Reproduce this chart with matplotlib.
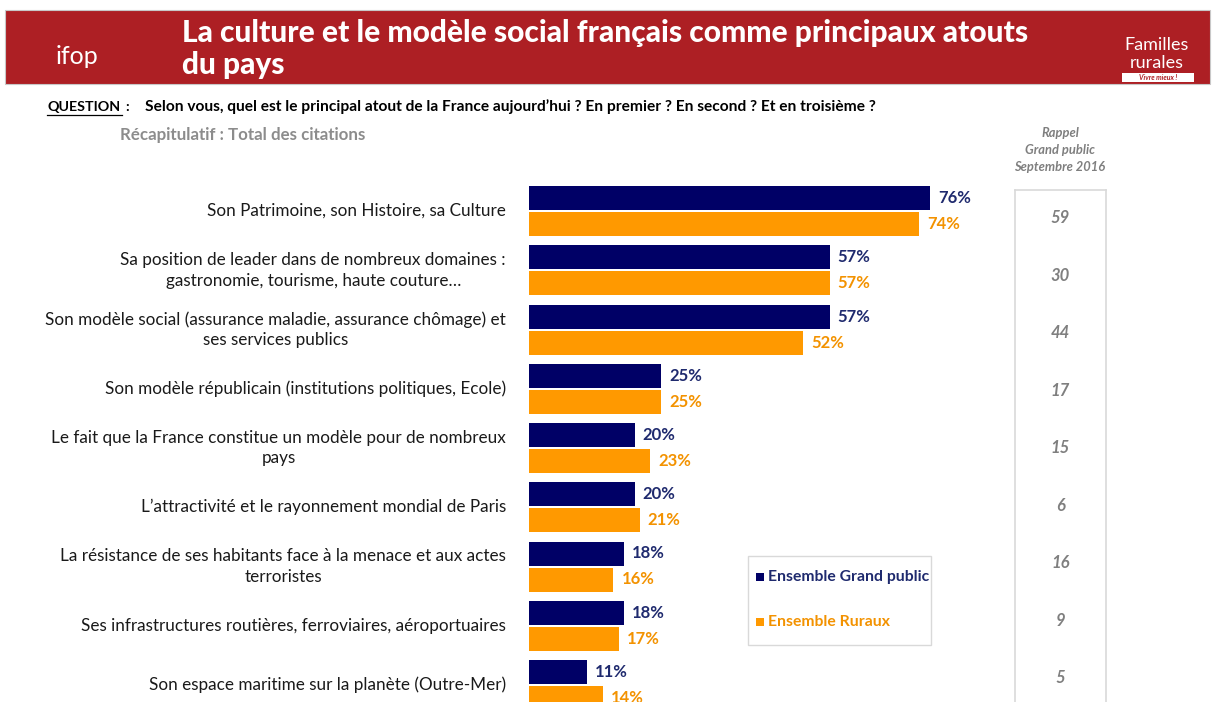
import matplotlib
matplotlib.use("Agg")
import matplotlib.pyplot as plt
from matplotlib.patches import Rectangle

categories = [
    "Son Patrimoine, son Histoire, sa Culture",
    "Sa position de leader dans de nombreux domaines :\ngastronomie, tourisme, haute couture…",
    "Son modèle social (assurance maladie, assurance chômage) et\nses services publics",
    "Son modèle républicain (institutions politiques, Ecole)",
    "Le fait que la France constitue un modèle pour de nombreux\npays",
    "L’attractivité et le rayonnement mondial de Paris",
    "La résistance de ses habitants face à la menace et aux actes\nterroristes",
    "Ses infrastructures routières, ferroviaires, aéroportuaires",
    "Son espace maritime sur la planète (Outre-Mer)",
]
grand_public = [76, 57, 57, 25, 20, 20, 18, 18, 11]
ruraux = [74, 57, 52, 25, 23, 21, 16, 17, 14]
rappel_2016 = [59, 30, 44, 17, 15, 6, 16, 9, 5]
series_names = ["Ensemble Grand public", "Ensemble Ruraux"]

NAVY = "#000066"
NAVY_T = "#1F2A6E"
ORANGE = "#FF9900"
ORANGE_T = "#F39200"
RED = "#AD1F24"
GREY = "#7F7F7F"
FONT = "Lato"

W, H = 1215, 702
fig = plt.figure(figsize=(W / 100, H / 100), dpi=100)
fig.patch.set_facecolor("white")

def fx(px):
    return px / W

def fy(py):
    return 1 - py / H

# header band
fig.patches.append(Rectangle((fx(5), fy(84)), fx(1205), 74 / H, transform=fig.transFigure,
                             facecolor=RED, edgecolor="#C8C8C8", lw=0.8, zorder=0))
fig.text(fx(182), fy(33), "La culture et le modèle social français comme principaux atouts",
         color="white", fontsize=21.5, fontweight="black", family=FONT, va="center", ha="left")
fig.text(fx(182), fy(65), "du pays", color="white", fontsize=21.5, fontweight="black",
         family=FONT, va="center", ha="left")
fig.text(fx(77), fy(57), "ifop", color="white", fontsize=18, fontweight="normal",
         family=FONT, va="center", ha="center")
fig.text(fx(1157), fy(45), "Familles", color="white", fontsize=13, family=FONT,
         va="center", ha="center")
fig.text(fx(1157), fy(63), "rurales", color="white", fontsize=13, family=FONT,
         va="center", ha="center")
fig.patches.append(Rectangle((fx(1122), fy(82)), fx(72), 9 / H, transform=fig.transFigure,
                             facecolor="white", edgecolor="none"))
fig.text(fx(1158), fy(77.5), "Vivre mieux !", color=RED, fontsize=5, style="italic",
         family=FONT, va="center", ha="center", fontweight="bold")

# question
fig.text(fx(47), fy(107), "QUESTION", fontsize=10.3, fontweight="bold", family=FONT,
         va="center", ha="left", color="black")
fig.lines.append(plt.Line2D([fx(47), fx(122)], [fy(115), fy(115)], transform=fig.transFigure,
                            color="black", lw=0.9))
fig.text(fx(125), fy(107), ":", fontsize=10.3, fontweight="bold", family=FONT,
         va="center", ha="left", color="black")
fig.text(fx(145), fy(107),
         "Selon vous, quel est le principal atout de la France aujourd’hui ? En premier ? En second ? Et en troisième ?",
         fontsize=11.2, fontweight="bold", family=FONT, va="center", ha="left", color="black")
fig.text(fx(120), fy(135), "Récapitulatif : Total des citations", fontsize=12.2, fontweight="bold",
         family=FONT, va="center", ha="left", color="#8C8C8C")

# bars axes
x0, x1 = 529, 1000
top_px = 180
scale = (930 - 529) / 76.0
spacing = 59.25
first_center = 211.0
ax = fig.add_axes([fx(x0), 0, fx(x1 - x0), (H - top_px) / H])
ax.set_xlim(0, (x1 - x0) / scale)
ax.set_ylim(8 + (H - first_center - 8 * spacing) / spacing, -(first_center - top_px) / spacing)
ax.axis("off")

bh = 24 / spacing
off = 13 / spacing
ys = list(range(len(categories)))
ax.barh([y - off for y in ys], grand_public, height=bh, color=NAVY, label=series_names[0])
ax.barh([y + off for y in ys], ruraux, height=bh, color=ORANGE, label=series_names[1])
for y, a, b in zip(ys, grand_public, ruraux):
    ax.annotate(f"{a}%", (a, y - off), xytext=(8, 0), textcoords="offset pixels",
                va="center", ha="left", color=NAVY_T, fontsize=12, fontweight="bold", family=FONT)
    ax.annotate(f"{b}%", (b, y + off), xytext=(8, 0), textcoords="offset pixels",
                va="center", ha="left", color=ORANGE_T, fontsize=12, fontweight="bold", family=FONT)

# category labels
for y, c in zip(ys, categories):
    ax.annotate(c, (0, y), xytext=(-23, 0), textcoords="offset pixels", va="center", ha="right",
                multialignment="center", fontsize=12.3, family=FONT, color="#1A1A1A",
                linespacing=1.35, annotation_clip=False)

# legend box
fig.patches.append(Rectangle((fx(748), fy(645)), fx(183), 89 / H, transform=fig.transFigure,
                             facecolor="none", edgecolor="#D9D9D9", lw=1))
fig.patches.append(Rectangle((fx(756), fy(581)), fx(8), 8 / H, transform=fig.transFigure,
                             facecolor=NAVY, edgecolor="none"))
fig.text(fx(768), fy(577), series_names[0], fontsize=11.3, fontweight="bold", family=FONT,
         color=NAVY_T, va="center", ha="left")
fig.patches.append(Rectangle((fx(756), fy(626)), fx(8), 8 / H, transform=fig.transFigure,
                             facecolor=ORANGE, edgecolor="none"))
fig.text(fx(768), fy(622), series_names[1], fontsize=11.3, fontweight="bold", family=FONT,
         color=ORANGE_T, va="center", ha="left")

# rappel column
for i, t in enumerate(["Rappel", "Grand public", "Septembre 2016"]):
    fig.text(fx(1060), fy(133 + 17 * i), t, fontsize=9.3, style="italic", fontweight="bold",
             family=FONT, color=GREY, va="center", ha="center")
r_top, r_bot = 190, 702
r_first, r_step = 218.0, 57.5
axr = fig.add_axes([fx(1015), 0, fx(91), (H - r_top) / H])
axr.set_xlim(0, 1)
axr.set_ylim((r_bot - r_first) / r_step, -(r_first - r_top) / r_step)
for s in ["left", "right", "top"]:
    axr.spines[s].set_color("#D9D9D9")
    axr.spines[s].set_linewidth(1.2)
axr.spines["bottom"].set_visible(False)
axr.set_xticks([])
axr.set_yticks([])
axr.patch.set_alpha(0)
for y, v in zip(ys, rappel_2016):
    axr.text(0.5, y, str(v), va="center", ha="center", fontsize=12, style="italic",
             fontweight="bold", family=FONT, color=GREY)

fig.savefig("out.png", dpi=100, facecolor="white")
